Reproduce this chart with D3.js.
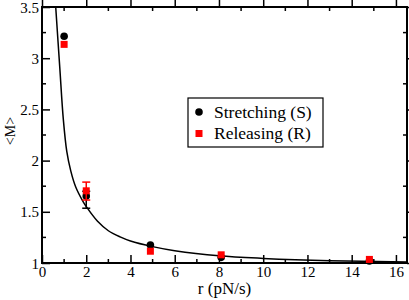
<!DOCTYPE html>
<html>
<head>
<meta charset="utf-8">
<script src="https://cdn.jsdelivr.net/npm/d3@7"></script>
<style>
  body { margin: 0; background: #fff; }
  svg text { font-family: "Liberation Serif", "Tinos", "DejaVu Serif", serif; }
</style>
</head>
<body>
<div class="canvas"></div>
<script>
var rates = [1, 2, 4.9, 8.1, 14.8];
var stretching = [3.215, 1.655, 1.175, 1.055, 1.02];
var releasing = [3.135, 1.705, 1.115, 1.08, 1.035];
var stretchErrLo = [3.215, 1.535, 1.175, 1.055, 1.02];
var stretchErrHi = [3.215, 1.70, 1.175, 1.055, 1.02];
var releaseErrLo = [3.135, 1.615, 1.115, 1.08, 1.035];
var releaseErrHi = [3.135, 1.79, 1.115, 1.08, 1.035];
var fitR = [0.62, 0.8, 0.965, 1.12, 1.3, 1.52, 1.87, 2.02, 2.5, 3, 3.53, 4, 5, 6, 8, 10, 13, 16.5];
var fitM = [3.5, 2.92, 2.40, 2.09, 1.90, 1.745, 1.595, 1.545, 1.41, 1.315, 1.255, 1.215, 1.16, 1.12, 1.07, 1.045, 1.022, 1.01];
var xTicks = [0, 2, 4, 6, 8, 10, 12, 14, 16];
var yTicks = [1, 1.5, 2, 2.5, 3, 3.5];
var legendLabels = ["Stretching (S)", "Releasing (R)"];

var svg;
var serif = "'Liberation Serif', 'Tinos', 'DejaVu Serif', serif";

function init() {
    var width = 409,
        height = 300,
        left = 42, right = 407, top = 7, bottom = 263;

    svg = d3.select(".canvas").append("svg")
            .attr("width", width)
            .attr("height", height);

    var x = d3.scaleLinear().domain([0, 16.5]).range([left, right]);
    var y = d3.scaleLinear().domain([1, 3.5]).range([bottom, top]);

    svg.append("clipPath").attr("id", "clip")
       .append("rect")
       .attr("x", left).attr("y", top)
       .attr("width", right - left).attr("height", bottom - top);

    // ticks on all four sides, pointing inward
    var xMinor = d3.range(1, 17, 2);
    var yMinor = d3.range(1.25, 3.5, 0.5);

    var axes = [
        {axis: d3.axisBottom(x).tickValues(xTicks), at: bottom, kind: "x", sign: 1},
        {axis: d3.axisTop(x).tickValues(xTicks), at: top, kind: "x", sign: -1},
        {axis: d3.axisLeft(y).tickValues(yTicks), at: left, kind: "y", sign: 1},
        {axis: d3.axisRight(y).tickValues(yTicks), at: right, kind: "y", sign: -1}
    ];

    axes.forEach(function (a, i) {
        var g = svg.append("g")
           .attr("transform", a.kind === "x" ? "translate(0," + a.at + ")" : "translate(" + a.at + ",0)");
        a.axis.tickSizeInner(-8 * a.sign).tickSizeOuter(0).tickPadding(0);
        if (i === 0) a.axis.tickFormat(d3.format("d"));
        else if (i === 2) a.axis.tickFormat(function (d) { return String(d); });
        else a.axis.tickFormat("");
        g.call(a.axis);
        g.attr("font-family", serif).attr("font-size", 15);
        g.select(".domain").remove();
        g.selectAll(".tick line").attr("stroke", "#000").attr("stroke-width", 1.5);
        g.selectAll(".tick text").attr("fill", "#000");
        if (i === 0) g.selectAll(".tick text").attr("y", 3).attr("dy", "0.71em");
        if (i === 2) g.selectAll(".tick text").attr("x", -3).attr("dy", "0.34em");

        var minor = a.kind === "x" ? xMinor : yMinor;
        var sc = a.kind === "x" ? x : y;
        minor.forEach(function (v) {
            var l = g.append("line").attr("stroke", "#000").attr("stroke-width", 1.5);
            if (a.kind === "x") {
                l.attr("x1", sc(v)).attr("x2", sc(v)).attr("y1", 0).attr("y2", -4 * a.sign);
            } else {
                l.attr("y1", sc(v)).attr("y2", sc(v)).attr("x1", 0).attr("x2", 4 * a.sign);
            }
        });
    });

    svg.append("rect")
       .attr("x", left).attr("y", top)
       .attr("width", right - left).attr("height", bottom - top)
       .attr("fill", "none").attr("stroke", "#000").attr("stroke-width", 2);

    // fit curve
    var line = d3.line()
        .x(function (d, i) { return x(fitR[i]); })
        .y(function (d, i) { return y(fitM[i]); })
        .curve(d3.curveCatmullRom.alpha(0.5));
    svg.append("path")
       .datum(fitR)
       .attr("clip-path", "url(#clip)")
       .attr("d", line)
       .attr("fill", "none")
       .attr("stroke", "#000")
       .attr("stroke-width", 1.5);

    // error bars
    function errorBars(lo, hi, color) {
        rates.forEach(function (r, i) {
            if (hi[i] - lo[i] < 0.01) return;
            var cx = x(r);
            svg.append("line").attr("x1", cx).attr("x2", cx)
               .attr("y1", y(lo[i])).attr("y2", y(hi[i]))
               .attr("stroke", color).attr("stroke-width", 1.5);
            [lo[i], hi[i]].forEach(function (v) {
                svg.append("line").attr("x1", cx - 4).attr("x2", cx + 4)
                   .attr("y1", y(v)).attr("y2", y(v))
                   .attr("stroke", color).attr("stroke-width", 1.5);
            });
        });
    }
    errorBars(stretchErrLo, stretchErrHi, "#000");

    rates.forEach(function (r, i) {
        svg.append("circle")
           .attr("class", "dot")
           .attr("cx", x(r))
           .attr("cy", y(stretching[i]))
           .attr("r", 3.8)
           .style("fill", "#000");
    });

    errorBars(releaseErrLo, releaseErrHi, "#ff0000");

    rates.forEach(function (r, i) {
        svg.append("rect")
           .attr("x", x(r) - 3.5)
           .attr("y", y(releasing[i]) - 3.5)
           .attr("width", 7)
           .attr("height", 7)
           .style("fill", "#ff0000");
    });

    // axis titles
    svg.append("text")
       .attr("x", (left + right) / 2)
       .attr("y", 294)
       .attr("text-anchor", "middle")
       .style("font-size", "17px")
       .text("r (pN/s)");
    svg.append("text")
       .attr("transform", "translate(15,131) rotate(-90)")
       .attr("text-anchor", "middle")
       .style("font-size", "14px")
       .text("<M>");

    // legend
    var lg = svg.append("g").attr("transform", "translate(188,98)");
    lg.append("rect")
      .attr("width", 135).attr("height", 49)
      .attr("fill", "#fff").attr("stroke", "#000").attr("stroke-width", 1.2);
    lg.append("circle").attr("cx", 11).attr("cy", 14).attr("r", 3.8).style("fill", "#000");
    lg.append("rect").attr("x", 7.5).attr("y", 32).attr("width", 7).attr("height", 7).style("fill", "#ff0000");
    legendLabels.forEach(function (t, i) {
        lg.append("text")
          .attr("x", 26)
          .attr("y", 20 + i * 21)
          .style("font-size", "17.5px")
          .text(t);
    });
}

init();
</script>
</body>
</html>
